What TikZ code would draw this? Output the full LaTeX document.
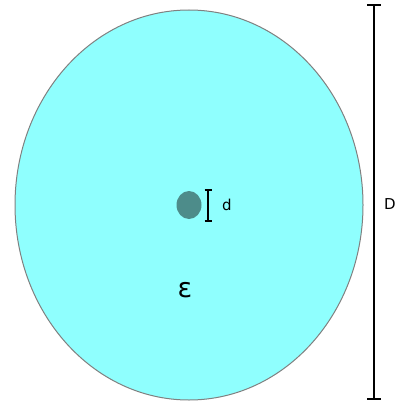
\documentclass[tikz,border=0pt]{standalone}
\usepackage{fontspec}
\setmainfont{DejaVu Sans}
\usetikzlibrary{shapes.geometric}
\begin{document}
\begin{tikzpicture}[x=1pt,y=-1pt,
  bar/.style={line width=2pt,black},
  lbl/.style={font=\fontsize{15}{18}\selectfont}]
\useasboundingbox (0,0) rectangle (398,409);
\node[draw=gray,line width=1pt,fill={rgb,255:red,143;green,255;blue,254},ellipse,minimum width=348pt,minimum height=390pt,inner sep=0pt] (big) at (189,205) {};
\node[fill={rgb,255:red,77;green,140;blue,138},ellipse,minimum width=25pt,minimum height=28pt,inner sep=0pt] (small) at (189,205) {};
\coordinate (dt) at (208,190);
\coordinate (db) at (208,221);
\draw[bar] (dt) -- (db);
\draw[bar] ([xshift=-3.5pt]dt) -- ([xshift=3.5pt]dt);
\draw[bar] ([xshift=-3.5pt]db) -- ([xshift=3.5pt]db);
\node[lbl] (d) at (227,205) {d};
\coordinate (Dt) at (374,5);
\coordinate (Db) at (374,399);
\draw[bar] (Dt) -- (Db);
\draw[bar] ([xshift=-7pt]Dt) -- ([xshift=7pt]Dt);
\draw[bar] ([xshift=-7pt]Db) -- ([xshift=7pt]Db);
\node[lbl] (D) at (390,204) {D};
\node[font=\fontsize{27}{30}\selectfont] (eps) at (185,290) {ε};
\end{tikzpicture}
\end{document}
